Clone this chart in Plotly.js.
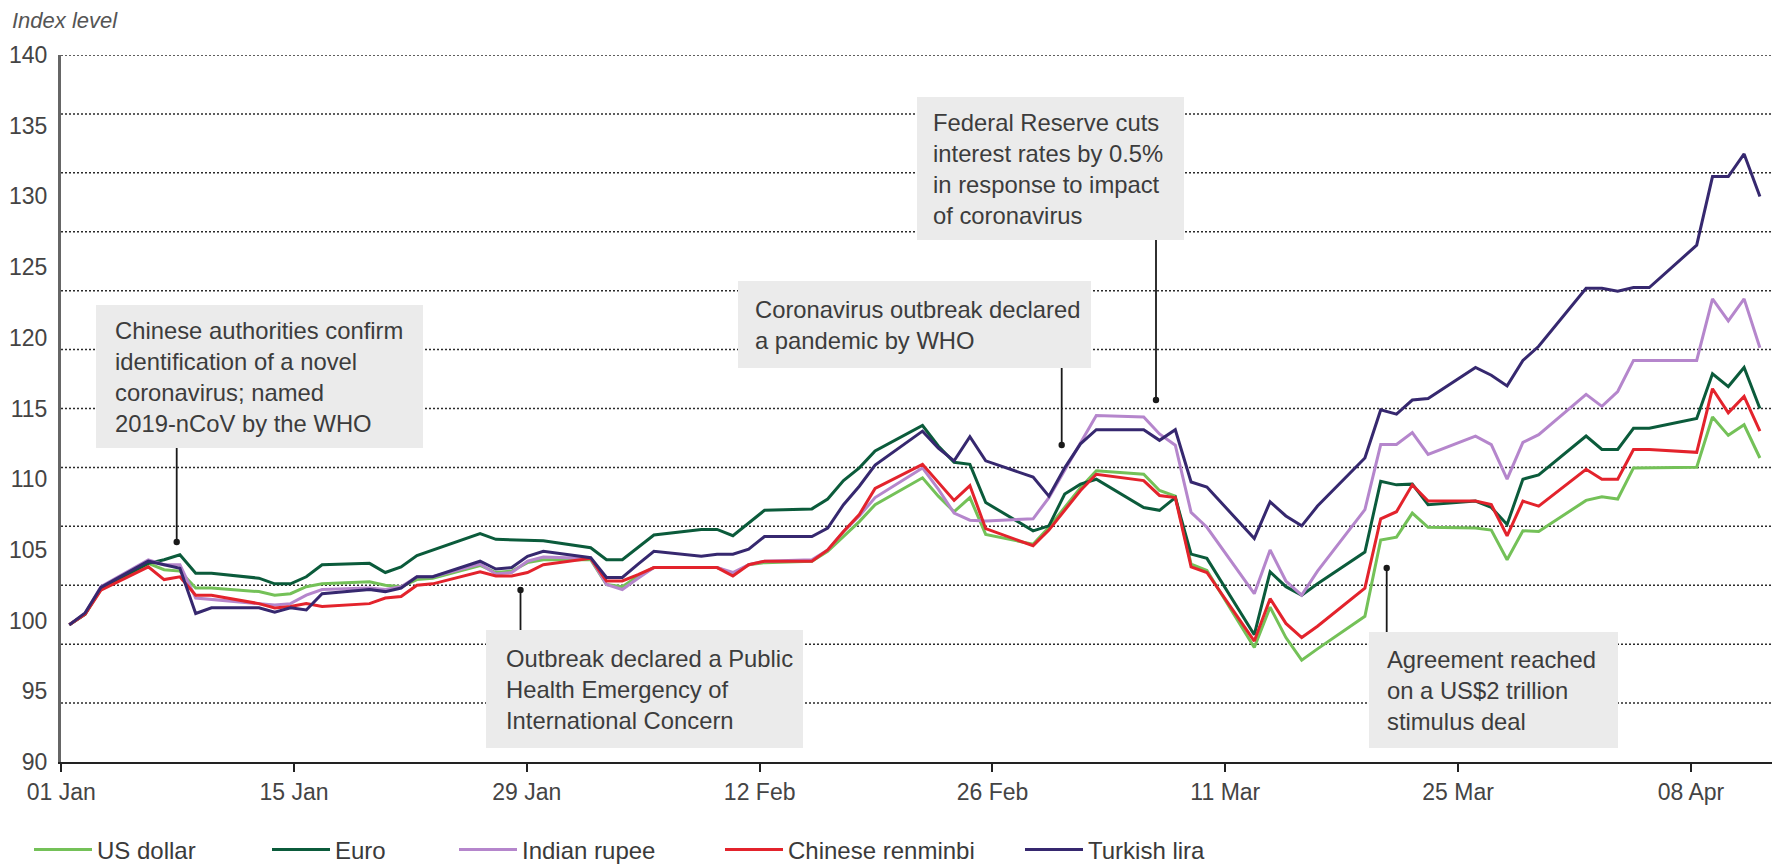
<!DOCTYPE html>
<html>
<head>
<meta charset="utf-8">
<script src="https://cdn.plot.ly/plotly-3.0.1.min.js"></script>
<style>
  html, body { margin: 0; padding: 0; background: #ffffff; }
  #chart { width: 1776px; height: 866px; }
</style>
</head>
<body>
<div id="chart"></div>
<script>
// ---------------- DATA ----------------
const dates = [
  '2020-01-01','2020-01-02','2020-01-03','2020-01-06','2020-01-07','2020-01-08','2020-01-09','2020-01-10',
  '2020-01-13','2020-01-14','2020-01-15','2020-01-16','2020-01-17','2020-01-20','2020-01-21','2020-01-22',
  '2020-01-23','2020-01-24','2020-01-27','2020-01-28','2020-01-29','2020-01-30','2020-01-31',
  '2020-02-03','2020-02-04','2020-02-05','2020-02-06','2020-02-07','2020-02-10','2020-02-11','2020-02-12',
  '2020-02-13','2020-02-14','2020-02-17','2020-02-18','2020-02-19','2020-02-20','2020-02-21','2020-02-24',
  '2020-02-25','2020-02-26','2020-02-27','2020-02-28',
  '2020-03-02','2020-03-03','2020-03-04','2020-03-05','2020-03-06','2020-03-09','2020-03-10','2020-03-11',
  '2020-03-12','2020-03-13','2020-03-16','2020-03-17','2020-03-18','2020-03-19','2020-03-20','2020-03-23',
  '2020-03-24','2020-03-25','2020-03-26','2020-03-27','2020-03-30','2020-03-31',
  '2020-04-01','2020-04-02','2020-04-03','2020-04-06','2020-04-07','2020-04-08','2020-04-09','2020-04-10',
  '2020-04-13','2020-04-14','2020-04-15','2020-04-16','2020-04-17'
];

const usDollar = [
  99.7, 100.45, 102.2, 104.05, 103.6, 103.5, 102.3, 102.3, 102.05, 101.8, 101.9, 102.4, 102.6, 102.75, 102.5, 102.4,
  102.9, 103.0, 103.9, 103.4, 103.5, 104.1, 104.3,
  104.3, 102.55, 102.4, 103.15, 103.75, 103.75, 103.75, 103.3, 103.95, 104.1, 104.2, 104.9, 105.95, 107.0, 108.2,
  110.1, 108.8, 107.7, 108.7, 106.1,
  105.4, 106.6, 108.0, 109.4, 110.6, 110.35, 109.2, 108.8, 104.0, 103.55, 98.1, 100.95, 98.8, 97.2, 98.0, 100.3,
  105.7, 105.9, 107.6, 106.6, 106.55, 106.4,
  104.3, 106.35, 106.3, 108.5, 108.75, 108.6, 110.8, 110.8, 110.85, 114.4, 113.1, 113.85, 111.5
];

const euro = [
  99.7, 100.45, 102.3, 104.05, 104.3, 104.65, 103.35, 103.35, 103.0, 102.6, 102.6, 103.1, 103.95, 104.05, 103.4, 103.8,
  104.6, 105.0, 106.15, 105.75, 105.7, 105.7, 105.65,
  105.15, 104.3, 104.3, 105.2, 106.05, 106.45, 106.45, 106.0, 106.9, 107.8, 107.9, 108.6, 109.9, 110.8, 112.0,
  113.8, 112.35, 111.2, 111.05, 108.35,
  106.35, 106.7, 108.95, 109.65, 110.0, 108.0, 107.8, 108.7, 104.7, 104.4, 99.0, 103.45, 102.4, 101.8, 102.6, 104.85,
  109.85, 109.6, 109.65, 108.2, 108.45, 108.0,
  106.8, 110.0, 110.3, 113.05, 112.1, 112.1, 113.6, 113.6, 114.3, 117.45, 116.55, 117.9, 115.0
];

const indianRupee = [
  99.7, 100.5, 102.4, 104.3, 103.95, 103.95, 101.6, 101.5, 101.2, 101.1, 101.2, 101.8, 102.2, 102.3, 102.2, 102.4,
  103.1, 103.1, 104.0, 103.3, 103.4, 104.2, 104.5,
  104.4, 102.55, 102.2, 103.0, 103.75, 103.75, 103.75, 103.4, 103.95, 104.2, 104.3, 105.0, 106.3, 107.4, 108.7,
  110.8, 109.3, 107.6, 107.1, 107.05,
  107.2, 108.7, 110.6, 112.5, 114.5, 114.4, 113.2, 112.4, 107.65, 106.6, 101.9, 105.0, 102.8, 101.8, 103.5, 107.85,
  112.45, 112.45, 113.3, 111.75, 113.05, 112.45,
  110.0, 112.6, 113.15, 116.0, 115.15, 116.2, 118.4, 118.4, 118.4, 122.75, 121.2, 122.75, 119.3
];

const chineseRenminbi = [
  99.7, 100.45, 102.15, 103.8, 102.9, 103.1, 101.8, 101.8, 101.2, 100.9, 101.0, 101.2, 101.0, 101.2, 101.6, 101.7,
  102.5, 102.6, 103.45, 103.15, 103.15, 103.4, 103.95,
  104.4, 102.8, 102.8, 103.25, 103.75, 103.75, 103.75, 103.15, 103.95, 104.2, 104.2, 105.0, 106.3, 107.5, 109.35,
  111.05, 109.75, 108.5, 109.55, 106.5,
  105.3, 106.4, 107.8, 109.2, 110.35, 109.9, 108.85, 108.7, 103.8, 103.4, 98.55, 101.55, 99.8, 98.8, 99.6, 102.3,
  107.2, 107.7, 109.6, 108.45, 108.45, 108.2,
  106.0, 108.45, 108.1, 110.7, 110.0, 110.0, 112.1, 112.1, 111.9, 116.4, 114.7, 115.85, 113.4
];

const turkishLira = [
  99.7, 100.55, 102.35, 104.2, 103.95, 103.7, 100.5, 100.9, 100.9, 100.6, 100.9, 100.75, 101.9, 102.2, 102.05, 102.3,
  103.1, 103.1, 104.2, 103.65, 103.75, 104.55, 104.9,
  104.45, 103.05, 103.05, 104.0, 104.9, 104.55, 104.7, 104.7, 105.05, 105.95, 105.95, 106.55, 108.2, 109.5, 111.0,
  113.4, 112.2, 111.3, 113.0, 111.3,
  110.15, 108.8, 110.8, 112.5, 113.5, 113.5, 112.75, 113.5, 109.8, 109.45, 105.8, 108.4, 107.4, 106.7, 108.1, 111.5,
  114.9, 114.6, 115.6, 115.7, 117.9, 117.35,
  116.6, 118.4, 119.4, 123.5, 123.5, 123.3, 123.55, 123.55, 126.55, 131.4, 131.4, 133.0, 130.0
];

const seriesNames = ['US dollar', 'Euro', 'Indian rupee', 'Chinese renminbi', 'Turkish lira'];
const tickLabels = ['01 Jan', '15 Jan', '29 Jan', '12 Feb', '26 Feb', '11 Mar', '25 Mar', '08 Apr'];
const tickDates = ['2020-01-01', '2020-01-15', '2020-01-29', '2020-02-12', '2020-02-26', '2020-03-11', '2020-03-25', '2020-04-08'];
const yTickValues = [90, 95, 100, 105, 110, 115, 120, 125, 130, 135, 140];
const yAxisTitle = 'Index level';

const eventTexts = [
  'Chinese authorities confirm<br>identification of a novel<br>coronavirus; named<br>2019-nCoV by the WHO',
  'Outbreak declared a Public<br>Health Emergency of<br>International Concern',
  'Coronavirus outbreak declared<br>a pandemic by WHO',
  'Federal Reserve cuts<br>interest rates by 0.5%<br>in response to impact<br>of coronavirus',
  'Agreement reached<br>on a US$2 trillion<br>stimulus deal'
];

// ---------------- STYLE / LAYOUT ----------------
const seriesValues = [usDollar, euro, indianRupee, chineseRenminbi, turkishLira];
const seriesColors = ['#74c158', '#0b5b3b', '#b586cc', '#e3232c', '#36286f'];
const FONT = 'Liberation Sans, Arial, sans-serif';

const W = 1776, H = 866;
const PLOT_LEFT = 61, PLOT_RIGHT = 1772, PLOT_TOP = 55, PLOT_BOTTOM = 762;
const PW = PLOT_RIGHT - PLOT_LEFT, PH = PLOT_BOTTOM - PLOT_TOP;

// horizontal calibration of the reference picture
const DAY = 86400000;
const T0 = Date.UTC(2020, 0, 1);
const DATA_X0 = 69.3, DATA_PX_PER_DAY = 15.8;   // where the series are drawn
const TICK_X0 = 61.2, TICK_PX_PER_DAY = 16.63;  // where the date labels sit

const xRange = [
  T0 + (PLOT_LEFT - DATA_X0) / DATA_PX_PER_DAY * DAY,
  T0 + (PLOT_RIGHT - DATA_X0) / DATA_PX_PER_DAY * DAY
];
const tickVals = tickDates.map(d => {
  const nominalDay = (Date.parse(d) - T0) / DAY;
  const px = TICK_X0 + TICK_PX_PER_DAY * nominalDay;
  return T0 + (px - DATA_X0) / DATA_PX_PER_DAY * DAY;
});

// dotted guide lines: the reference splits the 90-140 band into 12 equal steps
const GRID_STEPS = 12;

const legendIds = ['legend', 'legend2', 'legend3', 'legend4', 'legend5'];
const legendSampleX = [34, 272, 459, 725, 1025];

const traces = seriesNames.map((name, i) => ({
  type: 'scatter',
  mode: 'lines',
  name: name,
  x: dates,
  y: seriesValues[i],
  line: { color: seriesColors[i], width: 3 },
  legend: legendIds[i],
  hoverinfo: 'skip'
}));

const px2x = px => (px - PLOT_LEFT) / PW;
const py2y = py => (PLOT_BOTTOM - py) / PH;

const shapes = [];
for (let k = 1; k <= GRID_STEPS; k++) {
  const v = 90 + k * 50 / GRID_STEPS;
  shapes.push({
    type: 'line', xref: 'paper', yref: 'y', layer: 'below',
    x0: 0, x1: 1, y0: v, y1: v,
    line: { color: '#2b2b2b', width: 1.5, dash: '2px,2px' }
  });
}

// event boxes (pixel geometry of the reference)
const boxes = [
  { x0: 96,   x1: 423,  y0: 305, y1: 448, tx: 114,  ax: 176.7,  from: 448, to: 542 },
  { x0: 486,  x1: 803,  y0: 630, y1: 748, tx: 505,  ax: 520.5,  from: 630, to: 590 },
  { x0: 738,  x1: 1091, y0: 281, y1: 368, tx: 754,  ax: 1061.7, from: 368, to: 445 },
  { x0: 917,  x1: 1184, y0: 97,  y1: 240, tx: 932,  ax: 1156,   from: 240, to: 400 },
  { x0: 1369, x1: 1618, y0: 632, y1: 748, tx: 1386, ax: 1386.7, from: 632, to: 568 }
];

const annotations = [];
boxes.forEach((b, i) => {
  shapes.push({
    type: 'rect', xref: 'paper', yref: 'paper', layer: 'above',
    x0: px2x(b.x0), x1: px2x(b.x1), y0: py2y(b.y1), y1: py2y(b.y0),
    fillcolor: '#ebebeb', line: { width: 0 }
  });
  shapes.push({
    type: 'line', xref: 'paper', yref: 'paper', layer: 'above',
    x0: px2x(b.ax), x1: px2x(b.ax), y0: py2y(b.from), y1: py2y(b.to),
    line: { color: '#1a1a1a', width: 1.8 }
  });
  shapes.push({
    type: 'circle', xref: 'paper', yref: 'paper', layer: 'above',
    x0: px2x(b.ax - 3.2), x1: px2x(b.ax + 3.2), y0: py2y(b.to + 3.2), y1: py2y(b.to - 3.2),
    fillcolor: '#1a1a1a', line: { width: 0 }
  });
  annotations.push({
    xref: 'paper', yref: 'paper',
    x: px2x(b.tx), y: py2y((b.y0 + b.y1) / 2),
    xanchor: 'left', yanchor: 'middle', align: 'left',
    text: eventTexts[i], showarrow: false, borderpad: 0,
    font: { family: FONT, size: 23.8, color: '#3c3c3c' }
  });
});

const layout = {
  width: W, height: H,
  margin: { l: PLOT_LEFT, r: W - PLOT_RIGHT, t: PLOT_TOP, b: H - PLOT_BOTTOM, pad: 0 },
  paper_bgcolor: '#ffffff', plot_bgcolor: '#ffffff',
  font: { family: FONT, color: '#444444' },
  title: {
    text: yAxisTitle, xref: 'container', yref: 'container',
    x: 12 / W, xanchor: 'left', y: 1 - 20 / H, yanchor: 'middle',
    font: { size: 22, color: '#555555', style: 'italic', family: FONT }
  },
  xaxis: {
    type: 'date', range: xRange, tickmode: 'array', tickvals: tickVals, ticktext: tickLabels,
    ticks: 'outside', ticklen: 8, tickwidth: 2, tickcolor: '#222222',
    showline: true, linecolor: '#222222', linewidth: 2,
    showgrid: false, zeroline: false, fixedrange: true,
    tickfont: { size: 23, color: '#444444' }, ticklabelstandoff: 0
  },
  yaxis: {
    range: [90, 140], tickmode: 'array', tickvals: yTickValues,
    showgrid: false, zeroline: false, showline: true, linecolor: '#666666', linewidth: 3,
    ticks: '', tickfont: { size: 23, color: '#444444' }, ticklabelstandoff: 6, fixedrange: true
  },
  shapes: shapes,
  annotations: annotations,
  showlegend: true
};

legendIds.forEach((id, i) => {
  layout[id] = {
    xref: 'container', yref: 'container',
    x: (legendSampleX[i] - 5) / W, y: 1 - 850 / H,
    xanchor: 'left', yanchor: 'middle', orientation: 'h',
    itemwidth: 58, bgcolor: 'rgba(0,0,0,0)', borderwidth: 0,
    font: { size: 24, color: '#3a3a3a', family: FONT }
  };
});

Plotly.newPlot('chart', traces, layout, { displayModeBar: false, staticPlot: true });
</script>
</body>
</html>
